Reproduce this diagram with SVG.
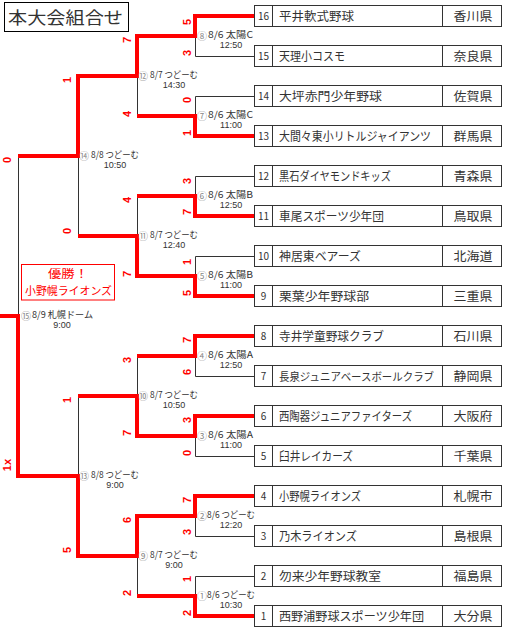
<svg xmlns="http://www.w3.org/2000/svg" width="505" height="630" viewBox="0 0 505 630">
<style>
text{font-family:"Noto Sans CJK JP","Liberation Sans",sans-serif;}
.team rect{fill:#fff;stroke:#333;stroke-width:1;}
.team line{stroke:#333;stroke-width:1;}
.num{font-size:10px;fill:#333;text-anchor:middle;}
.name{font-size:12px;fill:#333;}
.pref{font-size:12px;fill:#333;text-anchor:middle;}
.thin{stroke:#333;stroke-width:1;fill:none;}
.red{stroke:#ff0000;stroke-width:4;fill:none;stroke-linejoin:miter;stroke-linecap:butt;}
.score{font-family:"Liberation Sans",Arial,sans-serif;font-size:11px;font-weight:bold;fill:#ff0000;text-anchor:middle;dominant-baseline:central;}
.ml{font-size:9.5px;fill:#333;}
.mt{font-size:9px;fill:#333;text-anchor:middle;font-family:"Liberation Sans",Arial,sans-serif;}
.mc{font-size:10px;fill:#888;text-anchor:middle;}
</style>
<rect width="505" height="630" fill="#fff"/>
<g id="title">
<rect x="4.5" y="2.5" width="124" height="29" fill="#fff" stroke="#000" stroke-width="1"/>
<text x="8" y="23.5" font-size="17" fill="#333" textLength="115" lengthAdjust="spacingAndGlyphs">本大会組合せ</text>
</g>
<g id="connectors">
<path class="thin" d="M254,16.5H195.5V56.5H254 M254,96.5H195.5V136.5H254 M254,176.5H195.5V216.5H254 M254,256.5H195.5V296.5H254 M254,336.5H195.5V376.5H254 M254,416.5H195.5V456.5H254 M254,496.5H195.5V536.5H254 M254,576.5H195.5V616.5H254 M137.5,36V116 M137.5,196V276 M137.5,356V436 M137.5,516V596 M78.5,76V236 M78.5,396V556 M18.5,156V476"/>
<path class="red" d="M254,16H195V36H137V76H78V156H18"/>
<path class="red" d="M254,136H195V116H137"/>
<path class="red" d="M254,216H195V196H137"/>
<path class="red" d="M254,296H195V276H137V236H78"/>
<path class="red" d="M254,336H195V356H137"/>
<path class="red" d="M254,416H195V436H137V396H78"/>
<path class="red" d="M254,496H195V516H137V556H78V476H18V316H0"/>
<path class="red" d="M254,616H195V596H137"/>
</g>
<g id="scores">
<text class="score" transform="translate(187,22) rotate(-90)">5</text>
<text class="score" transform="translate(187,53) rotate(-90)">3</text>
<text class="score" transform="translate(187,100) rotate(-90)">0</text>
<text class="score" transform="translate(187,133) rotate(-90)">1</text>
<text class="score" transform="translate(187,181) rotate(-90)">3</text>
<text class="score" transform="translate(187,212) rotate(-90)">7</text>
<text class="score" transform="translate(187,262) rotate(-90)">1</text>
<text class="score" transform="translate(187,293) rotate(-90)">5</text>
<text class="score" transform="translate(187,340) rotate(-90)">7</text>
<text class="score" transform="translate(187,372) rotate(-90)">6</text>
<text class="score" transform="translate(187,420) rotate(-90)">3</text>
<text class="score" transform="translate(187,453) rotate(-90)">0</text>
<text class="score" transform="translate(187,500) rotate(-90)">7</text>
<text class="score" transform="translate(187,532) rotate(-90)">3</text>
<text class="score" transform="translate(187,579) rotate(-90)">1</text>
<text class="score" transform="translate(187,613) rotate(-90)">2</text>
<text class="score" transform="translate(127,40) rotate(-90)">7</text>
<text class="score" transform="translate(127,114) rotate(-90)">4</text>
<text class="score" transform="translate(127,200) rotate(-90)">4</text>
<text class="score" transform="translate(127,274) rotate(-90)">7</text>
<text class="score" transform="translate(127,360) rotate(-90)">3</text>
<text class="score" transform="translate(127,433) rotate(-90)">7</text>
<text class="score" transform="translate(127,520) rotate(-90)">6</text>
<text class="score" transform="translate(127,593) rotate(-90)">2</text>
<text class="score" transform="translate(67,80) rotate(-90)">1</text>
<text class="score" transform="translate(67,231) rotate(-90)">0</text>
<text class="score" transform="translate(67,400) rotate(-90)">1</text>
<text class="score" transform="translate(67,550) rotate(-90)">5</text>
<text class="score" transform="translate(7,160) rotate(-90)">0</text>
<text class="score" transform="translate(7,465) rotate(-90)">1x</text>
</g>
<g id="match-labels">
<g id="m1"><text class="mc" x="202" y="600">①</text><text class="ml" x="207" y="598" textLength="48" lengthAdjust="spacingAndGlyphs">8/6 つどーむ</text><text class="mt" x="231" y="607.5">10:30</text></g>
<g id="m2"><text class="mc" x="202" y="520">②</text><text class="ml" x="207" y="518" textLength="48" lengthAdjust="spacingAndGlyphs">8/6 つどーむ</text><text class="mt" x="231" y="527.5">12:20</text></g>
<g id="m3"><text class="mc" x="202" y="440">③</text><text class="ml" x="208" y="438" textLength="45" lengthAdjust="spacingAndGlyphs">8/6 太陽A</text><text class="mt" x="231" y="447.5">11:00</text></g>
<g id="m4"><text class="mc" x="202" y="360">④</text><text class="ml" x="208" y="358" textLength="45" lengthAdjust="spacingAndGlyphs">8/6 太陽A</text><text class="mt" x="231" y="367.5">12:50</text></g>
<g id="m5"><text class="mc" x="202" y="280">⑤</text><text class="ml" x="208" y="278" textLength="45" lengthAdjust="spacingAndGlyphs">8/6 太陽B</text><text class="mt" x="231" y="287.5">11:00</text></g>
<g id="m6"><text class="mc" x="202" y="200">⑥</text><text class="ml" x="208" y="198" textLength="45" lengthAdjust="spacingAndGlyphs">8/6 太陽B</text><text class="mt" x="231" y="207.5">12:50</text></g>
<g id="m7"><text class="mc" x="202" y="120">⑦</text><text class="ml" x="208" y="118" textLength="45" lengthAdjust="spacingAndGlyphs">8/6 太陽C</text><text class="mt" x="231" y="127.5">11:00</text></g>
<g id="m8"><text class="mc" x="202" y="40">⑧</text><text class="ml" x="208" y="38" textLength="45" lengthAdjust="spacingAndGlyphs">8/6 太陽C</text><text class="mt" x="231" y="47.5">12:50</text></g>
<g id="m9"><text class="mc" x="143" y="560">⑨</text><text class="ml" x="150" y="558" textLength="48" lengthAdjust="spacingAndGlyphs">8/7 つどーむ</text><text class="mt" x="174" y="567.5">9:00</text></g>
<g id="m10"><text class="mc" x="143" y="400">⑩</text><text class="ml" x="150" y="398" textLength="48" lengthAdjust="spacingAndGlyphs">8/7 つどーむ</text><text class="mt" x="174" y="407.5">10:50</text></g>
<g id="m11"><text class="mc" x="143" y="240">⑪</text><text class="ml" x="150" y="238" textLength="48" lengthAdjust="spacingAndGlyphs">8/7 つどーむ</text><text class="mt" x="174" y="247.5">12:40</text></g>
<g id="m12"><text class="mc" x="143" y="80">⑫</text><text class="ml" x="150" y="78" textLength="48" lengthAdjust="spacingAndGlyphs">8/7 つどーむ</text><text class="mt" x="174" y="87.5">14:30</text></g>
<g id="m13"><text class="mc" x="84" y="480">⑬</text><text class="ml" x="91" y="478" textLength="48" lengthAdjust="spacingAndGlyphs">8/8 つどーむ</text><text class="mt" x="115" y="487.5">9:00</text></g>
<g id="m14"><text class="mc" x="84" y="160">⑭</text><text class="ml" x="91" y="158" textLength="48" lengthAdjust="spacingAndGlyphs">8/8 つどーむ</text><text class="mt" x="115" y="167.5">10:50</text></g>
<g id="m15"><text class="mc" x="26" y="320">⑮</text><text class="ml" x="32" y="318" textLength="61" lengthAdjust="spacingAndGlyphs">8/9 札幌ドーム</text><text class="mt" x="62" y="327.5">9:00</text></g>
</g>
<g id="champion">
<rect x="21.5" y="264.5" width="93" height="35.5" fill="#fff" stroke="#ff0000" stroke-width="1"/>
<text x="48" y="278" font-size="11" fill="#ff0000" textLength="40" lengthAdjust="spacingAndGlyphs">優勝！</text>
<text x="25" y="294.5" font-size="11" fill="#ff0000" textLength="87" lengthAdjust="spacingAndGlyphs">小野幌ライオンズ</text>
</g>
<g id="team-16" class="team" transform="translate(0,0)"><rect x="254.5" y="5.5" width="247" height="21"/><line x1="272.5" y1="5.5" x2="272.5" y2="26.5"/><line x1="442.5" y1="5.5" x2="442.5" y2="26.5"/><text class="num" x="263.5" y="20">16</text><text class="name" x="279" y="20.5" textLength="75" lengthAdjust="spacingAndGlyphs">平井軟式野球</text><text class="pref" x="473" y="20.5" textLength="39" lengthAdjust="spacingAndGlyphs">香川県</text></g>
<g id="team-15" class="team" transform="translate(0,40)"><rect x="254.5" y="5.5" width="247" height="21"/><line x1="272.5" y1="5.5" x2="272.5" y2="26.5"/><line x1="442.5" y1="5.5" x2="442.5" y2="26.5"/><text class="num" x="263.5" y="20">15</text><text class="name" x="279" y="20.5" textLength="66" lengthAdjust="spacingAndGlyphs">天理小コスモ</text><text class="pref" x="473" y="20.5" textLength="39" lengthAdjust="spacingAndGlyphs">奈良県</text></g>
<g id="team-14" class="team" transform="translate(0,80)"><rect x="254.5" y="5.5" width="247" height="21"/><line x1="272.5" y1="5.5" x2="272.5" y2="26.5"/><line x1="442.5" y1="5.5" x2="442.5" y2="26.5"/><text class="num" x="263.5" y="20">14</text><text class="name" x="279" y="20.5" textLength="103" lengthAdjust="spacingAndGlyphs">大坪赤門少年野球</text><text class="pref" x="473" y="20.5" textLength="39" lengthAdjust="spacingAndGlyphs">佐賀県</text></g>
<g id="team-13" class="team" transform="translate(0,120)"><rect x="254.5" y="5.5" width="247" height="21"/><line x1="272.5" y1="5.5" x2="272.5" y2="26.5"/><line x1="442.5" y1="5.5" x2="442.5" y2="26.5"/><text class="num" x="263.5" y="20">13</text><text class="name" x="279" y="20.5" textLength="152" lengthAdjust="spacingAndGlyphs">大間々東小リトルジャイアンツ</text><text class="pref" x="473" y="20.5" textLength="39" lengthAdjust="spacingAndGlyphs">群馬県</text></g>
<g id="team-12" class="team" transform="translate(0,160)"><rect x="254.5" y="5.5" width="247" height="21"/><line x1="272.5" y1="5.5" x2="272.5" y2="26.5"/><line x1="442.5" y1="5.5" x2="442.5" y2="26.5"/><text class="num" x="263.5" y="20">12</text><text class="name" x="279" y="20.5" textLength="112" lengthAdjust="spacingAndGlyphs">黒石ダイヤモンドキッズ</text><text class="pref" x="473" y="20.5" textLength="39" lengthAdjust="spacingAndGlyphs">青森県</text></g>
<g id="team-11" class="team" transform="translate(0,200)"><rect x="254.5" y="5.5" width="247" height="21"/><line x1="272.5" y1="5.5" x2="272.5" y2="26.5"/><line x1="442.5" y1="5.5" x2="442.5" y2="26.5"/><text class="num" x="263.5" y="20">11</text><text class="name" x="279" y="20.5" textLength="105" lengthAdjust="spacingAndGlyphs">車尾スポーツ少年団</text><text class="pref" x="473" y="20.5" textLength="39" lengthAdjust="spacingAndGlyphs">鳥取県</text></g>
<g id="team-10" class="team" transform="translate(0,240)"><rect x="254.5" y="5.5" width="247" height="21"/><line x1="272.5" y1="5.5" x2="272.5" y2="26.5"/><line x1="442.5" y1="5.5" x2="442.5" y2="26.5"/><text class="num" x="263.5" y="20">10</text><text class="name" x="279" y="20.5" textLength="82" lengthAdjust="spacingAndGlyphs">神居東ベアーズ</text><text class="pref" x="473" y="20.5" textLength="39" lengthAdjust="spacingAndGlyphs">北海道</text></g>
<g id="team-9" class="team" transform="translate(0,280)"><rect x="254.5" y="5.5" width="247" height="21"/><line x1="272.5" y1="5.5" x2="272.5" y2="26.5"/><line x1="442.5" y1="5.5" x2="442.5" y2="26.5"/><text class="num" x="263.5" y="20">9</text><text class="name" x="279" y="20.5" textLength="90" lengthAdjust="spacingAndGlyphs">栗葉少年野球部</text><text class="pref" x="473" y="20.5" textLength="39" lengthAdjust="spacingAndGlyphs">三重県</text></g>
<g id="team-8" class="team" transform="translate(0,320)"><rect x="254.5" y="5.5" width="247" height="21"/><line x1="272.5" y1="5.5" x2="272.5" y2="26.5"/><line x1="442.5" y1="5.5" x2="442.5" y2="26.5"/><text class="num" x="263.5" y="20">8</text><text class="name" x="279" y="20.5" textLength="105" lengthAdjust="spacingAndGlyphs">寺井学童野球クラブ</text><text class="pref" x="473" y="20.5" textLength="39" lengthAdjust="spacingAndGlyphs">石川県</text></g>
<g id="team-7" class="team" transform="translate(0,360)"><rect x="254.5" y="5.5" width="247" height="21"/><line x1="272.5" y1="5.5" x2="272.5" y2="26.5"/><line x1="442.5" y1="5.5" x2="442.5" y2="26.5"/><text class="num" x="263.5" y="20">7</text><text class="name" x="279" y="20.5" font-size="11" style="font-size:11px" textLength="155" lengthAdjust="spacingAndGlyphs">長泉ジュニアベースボールクラブ</text><text class="pref" x="473" y="20.5" textLength="39" lengthAdjust="spacingAndGlyphs">静岡県</text></g>
<g id="team-6" class="team" transform="translate(0,400)"><rect x="254.5" y="5.5" width="247" height="21"/><line x1="272.5" y1="5.5" x2="272.5" y2="26.5"/><line x1="442.5" y1="5.5" x2="442.5" y2="26.5"/><text class="num" x="263.5" y="20">6</text><text class="name" x="279" y="20.5" textLength="133" lengthAdjust="spacingAndGlyphs">西陶器ジュニアファイターズ</text><text class="pref" x="473" y="20.5" textLength="39" lengthAdjust="spacingAndGlyphs">大阪府</text></g>
<g id="team-5" class="team" transform="translate(0,440)"><rect x="254.5" y="5.5" width="247" height="21"/><line x1="272.5" y1="5.5" x2="272.5" y2="26.5"/><line x1="442.5" y1="5.5" x2="442.5" y2="26.5"/><text class="num" x="263.5" y="20">5</text><text class="name" x="279" y="20.5" textLength="74" lengthAdjust="spacingAndGlyphs">臼井レイカーズ</text><text class="pref" x="473" y="20.5" textLength="39" lengthAdjust="spacingAndGlyphs">千葉県</text></g>
<g id="team-4" class="team" transform="translate(0,480)"><rect x="254.5" y="5.5" width="247" height="21"/><line x1="272.5" y1="5.5" x2="272.5" y2="26.5"/><line x1="442.5" y1="5.5" x2="442.5" y2="26.5"/><text class="num" x="263.5" y="20">4</text><text class="name" x="279" y="20.5" textLength="82" lengthAdjust="spacingAndGlyphs">小野幌ライオンズ</text><text class="pref" x="473" y="20.5" textLength="39" lengthAdjust="spacingAndGlyphs">札幌市</text></g>
<g id="team-3" class="team" transform="translate(0,520)"><rect x="254.5" y="5.5" width="247" height="21"/><line x1="272.5" y1="5.5" x2="272.5" y2="26.5"/><line x1="442.5" y1="5.5" x2="442.5" y2="26.5"/><text class="num" x="263.5" y="20">3</text><text class="name" x="279" y="20.5" textLength="78" lengthAdjust="spacingAndGlyphs">乃木ライオンズ</text><text class="pref" x="473" y="20.5" textLength="39" lengthAdjust="spacingAndGlyphs">島根県</text></g>
<g id="team-2" class="team" transform="translate(0,560)"><rect x="254.5" y="5.5" width="247" height="21"/><line x1="272.5" y1="5.5" x2="272.5" y2="26.5"/><line x1="442.5" y1="5.5" x2="442.5" y2="26.5"/><text class="num" x="263.5" y="20">2</text><text class="name" x="279" y="20.5" textLength="102" lengthAdjust="spacingAndGlyphs">勿来少年野球教室</text><text class="pref" x="473" y="20.5" textLength="39" lengthAdjust="spacingAndGlyphs">福島県</text></g>
<g id="team-1" class="team" transform="translate(0,600)"><rect x="254.5" y="5.5" width="247" height="21"/><line x1="272.5" y1="5.5" x2="272.5" y2="26.5"/><line x1="442.5" y1="5.5" x2="442.5" y2="26.5"/><text class="num" x="263.5" y="20">1</text><text class="name" x="279" y="20.5" textLength="145" lengthAdjust="spacingAndGlyphs">西野浦野球スポーツ少年団</text><text class="pref" x="473" y="20.5" textLength="39" lengthAdjust="spacingAndGlyphs">大分県</text></g>
</svg>
